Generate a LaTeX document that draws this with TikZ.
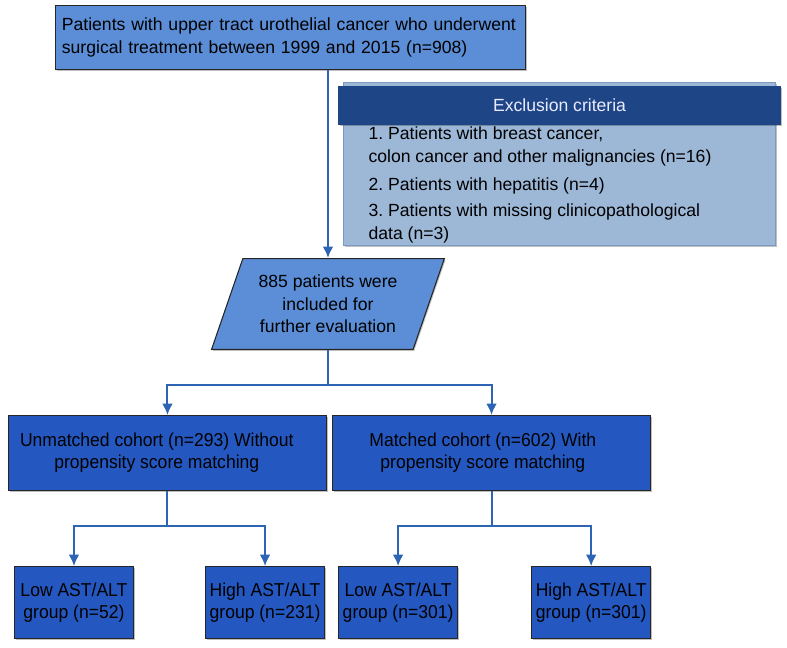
\documentclass[tikz,border=0pt]{standalone}
\usepackage{xcolor, fontspec}
\setmainfont{Liberation Sans}
\newfontfamily\narrowsans[FakeStretch=0.94]{Liberation Sans}
\usetikzlibrary{positioning, shapes.geometric, shadows, arrows.meta}

\begin{document}
\begin{tikzpicture}[
        every node/.style={font=\fontsize{13.2}{16}\selectfont},
        flow/.style={draw=flow-blue, line width=1.5pt},
        flowarrow/.style={flow, -{Latex[length=8.5pt, width=8pt]}},
        boxshadow/.style={drop shadow={shadow xshift=0.8pt, shadow yshift=-1.2pt,
            fill=black, opacity=0.25}}
    ]
    \newlength\hpad
    \newlength\vpad
    \newlength\hvpad
    \setlength\hpad{3.75pt}
    \setlength\vpad{26.25pt}
    \setlength\hvpad{56.25pt}
    \definecolor{box-blue}{HTML}{5B8ED6}
    \definecolor{cohort-blue}{HTML}{2458C0}
    \definecolor{excl-navy}{HTML}{1E4687}
    \definecolor{excl-grey}{HTML}{9DB7D7}
    \definecolor{excl-edge}{HTML}{7B9AC2}
    \definecolor{flow-blue}{HTML}{2E64B4}
    \colorlet{excl-text}{blue!8!white}
    \newcommand*\nodetable[3][c]{%
        \begin{tabular}{@{}#1@{}}%
            #2 \\
            #3%
        \end{tabular}%
    }

    \useasboundingbox (0,0) rectangle (590.25pt,-486pt);

    \begin{scope}[every node/.append style={draw=black!85, line width=0.8pt, inner sep=0pt}]
        % ALL PATIENTS
        \node [anchor=north west, minimum width=352.5pt, minimum height=48pt,
            text width=343pt, align=left, fill=box-blue, boxshadow,
            font=\fontsize{13.2}{17}\selectfont]
            (all) at (41.25pt,-3.75pt)
            {Patients with upper tract urothelial cancer who underwent\\
             surgical treatment between 1999 and 2015 (n=908)};

        % EXCLUSION CRITERIA
        \node [anchor=north west, minimum width=324pt, minimum height=122.25pt,
            draw=excl-edge, fill=excl-grey, boxshadow]
            (exbody) at (257.25pt,-61.5pt) {};
        \node [below = 3pt of exbody.north, minimum width=331.5pt, minimum height=28.5pt,
            draw=excl-navy, fill=excl-navy, text=excl-text, boxshadow]
            (exhead) {Exclusion criteria};
        \node [draw=none, below right = -1.5pt and 22.5pt of exhead.south west,
            font=\fontsize{13.2}{17}\selectfont] (exlist) {%
            \begin{tabular}{@{}l@{}}
                1.\ Patients with breast cancer,\\
                colon cancer and other malignancies (n=16)\\[4pt]
                2.\ Patients with hepatitis (n=4)\\[3pt]
                3.\ Patients with missing clinicopathological\\
                data (n=3)
            \end{tabular}};

        % INCLUDED PATIENTS
        \node [trapezium, trapezium left angle=71, trapezium right angle=109,
            inner xsep=11.75pt, inner ysep=12.2pt,
            align=center, fill=box-blue, anchor=north, boxshadow,
            font=\fontsize{13.2}{17}\selectfont]
            (incl) at (246pt,-193.5pt)
            {885 patients were\\ included for\\ further evaluation};

        % COHORTS
        \begin{scope}[every node/.append style={fill=cohort-blue, boxshadow,
                font=\narrowsans\fontsize{14}{16.5}\selectfont}]
            \node [anchor=north east, minimum width=238.5pt, minimum height=56.25pt]
                (unmatched) at (245.25pt,-311.25pt) {%
                \nodetable{Unmatched cohort (n=293) Without}{propensity score matching}%
                \hspace*{16pt}};
            \node [right = \hpad of unmatched, minimum width=238.5pt, minimum height=56.25pt]
                (matched) {%
                \nodetable{Matched cohort (n=602) With}{propensity score matching}%
                \hspace*{13pt}};

            % AST/ALT GROUPS
            \node [below right = \hvpad and 4.5pt of unmatched.south west,
                minimum width=89.25pt, minimum height=54pt] (low1) {%
                \nodetable{Low AST/ALT}{group (n=52)}};
            \node [right = 53.25pt of low1, minimum width=89.25pt, minimum height=54pt]
                (high1) {\nodetable{High AST/ALT}{group (n=231)}};
            \node [right = 9.75pt of high1, minimum width=89.25pt, minimum height=54pt]
                (low2) {\nodetable{Low AST/ALT}{group (n=301)}};
            \node [right = 54.75pt of low2, minimum width=89.25pt, minimum height=54pt]
                (high2) {\nodetable{High AST/ALT}{group (n=301)}};
        \end{scope}
    \end{scope}

    % Split points of the connectors
    \coordinate [below = \vpad of incl.south] (split);
    \coordinate [below = \vpad of unmatched.south] (split1);
    \coordinate [below = \vpad of matched.south] (split2);

    % All patients to included patients
    \draw [flowarrow] (incl.north |- all.south) -- (incl.north);

    % Included patients to both cohorts
    \draw [flow] (incl.south) -- (split);
    \foreach \cohort in {unmatched, matched}
        \draw [flowarrow] (split) -| (\cohort.north);

    % Cohorts to AST/ALT groups
    \foreach \cohort/\groupidx in {unmatched/1, matched/2} {
        \draw [flow] (\cohort.south) -- (split\groupidx);
        \draw [flowarrow] (split\groupidx) -| (low\groupidx.north);
        \draw [flowarrow] (split\groupidx) -| (high\groupidx.north);
    }
\end{tikzpicture}
\end{document}
